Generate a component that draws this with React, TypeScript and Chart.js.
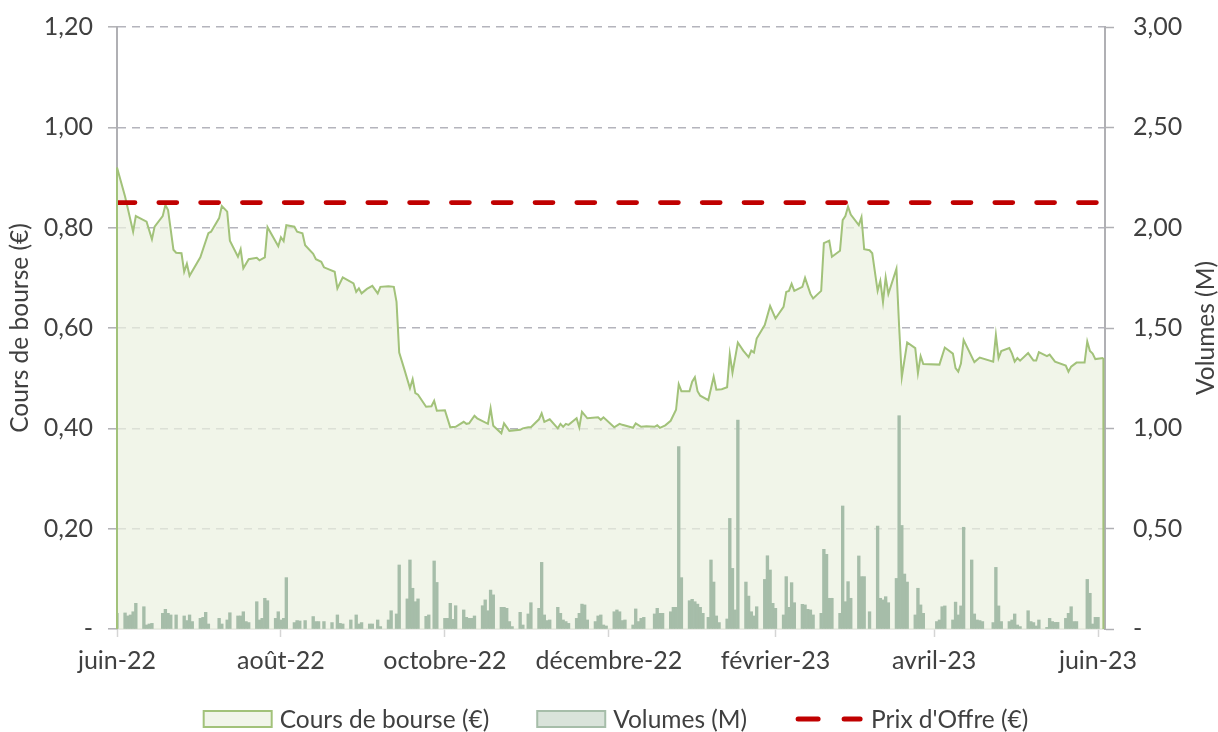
import React, { useEffect, useRef } from 'react';
import { Chart, registerables } from 'chart.js';

Chart.register(...registerables);

// Day offsets counted from 1 June 2022
const START_DATE = '2022-06-01';
const monthTickDays = [0, 61, 122, 183, 245, 304, 365];
const monthTickLabels = ['juin-22', 'août-22', 'octobre-22', 'décembre-22', 'février-23', 'avril-23', 'juin-23'];

// [day offset, share price €]
const pricePoints: [number, number][] = [
  [0, 0.92], [3, 0.862], [6, 0.792], [7, 0.823], [11, 0.812], [13, 0.777], [14, 0.802], [17, 0.823],
  [18, 0.845], [19, 0.835], [21, 0.756], [22, 0.75], [24, 0.749], [25, 0.712], [26, 0.728], [27, 0.704],
  [31, 0.741], [34, 0.789], [35, 0.792], [38, 0.819], [39, 0.843], [41, 0.832], [42, 0.774], [45, 0.742],
  [46, 0.757], [47, 0.719], [49, 0.737], [52, 0.74], [53, 0.735], [55, 0.741], [56, 0.801], [60, 0.763],
  [61, 0.781], [62, 0.773], [63, 0.805], [66, 0.802], [67, 0.792], [69, 0.789], [70, 0.765], [73, 0.748],
  [74, 0.737], [76, 0.732], [77, 0.721], [81, 0.712], [82, 0.679], [84, 0.701], [88, 0.689], [89, 0.672],
  [90, 0.679], [91, 0.669], [93, 0.678], [95, 0.684], [97, 0.669], [98, 0.682], [101, 0.683], [103, 0.682],
  [104, 0.652], [105, 0.551], [107, 0.516], [109, 0.48], [110, 0.498], [111, 0.47], [112, 0.467], [115, 0.443],
  [117, 0.444], [118, 0.455], [119, 0.435], [122, 0.436], [124, 0.402], [126, 0.403], [129, 0.413], [130, 0.409],
  [131, 0.41], [133, 0.425], [134, 0.42], [138, 0.409], [139, 0.44], [140, 0.405], [143, 0.39], [144, 0.41],
  [146, 0.395], [150, 0.397], [151, 0.4], [153, 0.402], [154, 0.402], [157, 0.418], [158, 0.43], [159, 0.413],
  [161, 0.418], [164, 0.4], [165, 0.409], [166, 0.403], [167, 0.409], [168, 0.407], [171, 0.42], [172, 0.402],
  [173, 0.433], [175, 0.42], [179, 0.422], [180, 0.417], [181, 0.422], [185, 0.402], [187, 0.409], [188, 0.407],
  [192, 0.401], [193, 0.41], [195, 0.403], [197, 0.404], [200, 0.403], [201, 0.406], [202, 0.401], [204, 0.406],
  [206, 0.415], [208, 0.437], [209, 0.488], [210, 0.474], [213, 0.474], [214, 0.493], [215, 0.502], [216, 0.474],
  [217, 0.465], [220, 0.456], [222, 0.503], [223, 0.477], [225, 0.478], [227, 0.482], [228, 0.548], [229, 0.511],
  [231, 0.571], [233, 0.555], [235, 0.542], [236, 0.555], [237, 0.551], [238, 0.579], [241, 0.606], [243, 0.644],
  [245, 0.619], [248, 0.642], [249, 0.672], [250, 0.674], [251, 0.688], [252, 0.674], [255, 0.682], [256, 0.7],
  [258, 0.668], [259, 0.659], [262, 0.674], [263, 0.769], [265, 0.774], [266, 0.742], [269, 0.754], [270, 0.815],
  [271, 0.823], [272, 0.842], [273, 0.826], [276, 0.805], [277, 0.821], [278, 0.757], [280, 0.755], [281, 0.749],
  [283, 0.674], [284, 0.694], [285, 0.652], [286, 0.701], [287, 0.668], [290, 0.718], [291, 0.603], [292, 0.502],
  [294, 0.571], [297, 0.56], [298, 0.51], [299, 0.544], [300, 0.528], [306, 0.527], [308, 0.561], [311, 0.549],
  [312, 0.52], [313, 0.513], [314, 0.529], [315, 0.576], [319, 0.532], [321, 0.541], [326, 0.533], [327, 0.586],
  [328, 0.54], [329, 0.554], [332, 0.56], [333, 0.549], [334, 0.533], [335, 0.54], [336, 0.535], [339, 0.55],
  [341, 0.535], [342, 0.535], [343, 0.552], [346, 0.544], [347, 0.547], [349, 0.533], [353, 0.525], [354, 0.513],
  [355, 0.523], [357, 0.531], [360, 0.531], [361, 0.573], [362, 0.554], [363, 0.549], [364, 0.538], [367, 0.54],
];

// [day offset, volume in millions]
const volumePoints: [number, number][] = [
  [0, 0.078], [3, 0.08], [4, 0.065], [5, 0.07], [6, 0.086], [7, 0.128], [10, 0.111], [11, 0.02], [12, 0.025],
  [13, 0.028], [17, 0.078], [18, 0.098], [19, 0.078], [20, 0.07], [22, 0.07], [25, 0.065], [26, 0.042], [27, 0.07],
  [28, 0.037], [31, 0.053], [32, 0.058], [33, 0.083], [34, 0.025], [38, 0.053], [39, 0.025], [41, 0.045], [42, 0.081],
  [45, 0.065], [46, 0.065], [47, 0.086], [48, 0.037], [49, 0.032], [52, 0.136], [53, 0.045], [54, 0.053], [55, 0.153],
  [56, 0.141], [59, 0.053], [60, 0.086], [61, 0.045], [62, 0.053], [63, 0.256], [66, 0.032], [67, 0.042], [68, 0.04],
  [70, 0.042], [73, 0.062], [74, 0.037], [75, 0.037], [77, 0.037], [80, 0.032], [82, 0.07], [83, 0.028], [84, 0.025],
  [87, 0.045], [89, 0.07], [90, 0.025], [91, 0.032], [94, 0.025], [95, 0.025], [97, 0.045], [98, 0.012], [101, 0.045],
  [102, 0.091], [104, 0.075], [105, 0.319], [108, 0.15], [109, 0.344], [110, 0.203], [111, 0.136], [112, 0.15],
  [115, 0.063], [116, 0.07], [118, 0.339], [119, 0.232], [122, 0.053], [123, 0.053], [124, 0.128], [125, 0.048],
  [126, 0.116], [129, 0.095], [130, 0.058], [131, 0.053], [132, 0.053], [133, 0.065], [136, 0.116], [137, 0.145],
  [138, 0.091], [139, 0.194], [140, 0.17], [143, 0.108], [144, 0.108], [145, 0.103], [146, 0.037], [147, 0.012],
  [150, 0.083], [151, 0.02], [153, 0.075], [154, 0.131], [157, 0.103], [158, 0.332], [159, 0.07], [160, 0.042],
  [161, 0.045], [164, 0.108], [165, 0.078], [166, 0.045], [167, 0.037], [168, 0.028], [171, 0.053], [172, 0.078],
  [173, 0.124], [174, 0.12], [175, 0.045], [178, 0.037], [179, 0.065], [180, 0.07], [181, 0.02], [182, 0.015],
  [185, 0.086], [186, 0.095], [187, 0.086], [188, 0.042], [189, 0.045], [192, 0.02], [193, 0.1], [194, 0.037],
  [195, 0.053], [196, 0.058], [200, 0.075], [201, 0.103], [202, 0.078], [203, 0.078], [206, 0.086], [207, 0.108],
  [208, 0.108], [209, 0.909], [210, 0.256], [213, 0.141], [214, 0.148], [215, 0.136], [216, 0.124], [217, 0.108],
  [218, 0.078], [220, 0.058], [221, 0.344], [222, 0.234], [223, 0.065], [224, 0.032], [227, 0.05], [228, 0.551],
  [229, 0.302], [230, 0.095], [231, 1.041], [234, 0.234], [235, 0.164], [236, 0.086], [237, 0.065], [238, 0.111],
  [241, 0.247], [242, 0.365], [243, 0.294], [244, 0.128], [245, 0.103], [248, 0.07], [249, 0.261], [250, 0.108],
  [251, 0.231], [252, 0.131], [255, 0.123], [256, 0.12], [257, 0.098], [258, 0.095], [259, 0.07], [262, 0.078],
  [263, 0.397], [264, 0.372], [265, 0.153], [266, 0.153], [269, 0.078], [270, 0.613], [271, 0.136], [272, 0.236],
  [273, 0.153], [276, 0.364], [277, 0.261], [278, 0.261], [280, 0.086], [283, 0.513], [284, 0.153], [285, 0.145],
  [286, 0.161], [287, 0.131], [290, 0.252], [291, 1.063], [292, 0.516], [293, 0.274], [294, 0.234], [297, 0.07],
  [298, 0.203], [299, 0.12], [300, 0.078], [305, 0.037], [306, 0.045], [307, 0.111], [308, 0.115], [311, 0.045],
  [312, 0.134], [313, 0.07], [314, 0.115], [315, 0.507], [318, 0.344], [319, 0.075], [320, 0.045], [321, 0.042],
  [322, 0.037], [326, 0.032], [327, 0.307], [328, 0.115], [329, 0.037], [332, 0.037], [333, 0.045], [334, 0.075],
  [335, 0.02], [336, 0.012], [339, 0.091], [340, 0.037], [341, 0.032], [342, 0.015], [343, 0.045], [346, 0.008],
  [347, 0.053], [348, 0.037], [349, 0.033], [350, 0.033], [353, 0.053], [354, 0.078], [355, 0.111], [356, 0.037],
  [357, 0.037], [361, 0.247], [362, 0.178], [363, 0.025], [364, 0.058], [365, 0.058],
];

const offerPrice = 0.85;

const seriesLabels = ['Cours de bourse (€)', 'Volumes (M)', "Prix d'Offre (€)"];
const leftAxisTitle = 'Cours de bourse (€)';
const rightAxisTitle = 'Volumes (M)';

const FONT = "Lato, 'Open Sans', sans-serif";
const TEXT = '#404040';
const PRICE_LINE = '#a2c27a';
const PRICE_FILL = 'rgba(235,241,225,0.72)';
const VOL_COLOR = '#a6bda9';
const OFFER_COLOR = '#c00000';
const AXIS_GRAY = '#b0b0b4';
const TICK_SIZE = 25;
const LABEL_SIZE = 24.5;

const fmt = (v: number) => (v === 0 ? '-' : Number(v).toFixed(2).replace('.', ','));

const decorPlugin = {
  id: 'decor',
  afterDatasetsDraw(chart: any) {
    // vertical edges of the area (as drawn by the spreadsheet's area border)
    const meta = chart.getDatasetMeta(0);
    const pts = meta.data;
    if (!pts.length) return;
    const y0 = chart.scales.y.getPixelForValue(0);
    const ctx = chart.ctx;
    ctx.save();
    ctx.strokeStyle = PRICE_LINE;
    ctx.lineWidth = 2;
    [pts[0], pts[pts.length - 1]].forEach((p: any) => {
      ctx.beginPath();
      ctx.moveTo(p.x, p.y);
      ctx.lineTo(p.x, y0);
      ctx.stroke();
    });
    ctx.restore();
  },
  afterDraw(chart: any) {
    const ctx = chart.ctx;
    const area = chart.chartArea;
    // right axis title, rotated (bottom to top)
    ctx.save();
    ctx.font = `${LABEL_SIZE}px ${FONT}`;
    ctx.fillStyle = TEXT;
    ctx.textAlign = 'center';
    ctx.textBaseline = 'middle';
    ctx.translate(chart.width - 12, (area.top + area.bottom) / 2);
    ctx.rotate(-Math.PI / 2);
    ctx.fillText(rightAxisTitle, 0, 0);
    ctx.restore();

    // legend
    const boxW = 68, boxH = 16, textGap = 8, itemGap = 48;
    ctx.save();
    ctx.font = `${LABEL_SIZE}px ${FONT}`;
    const widths = seriesLabels.map((l) => ctx.measureText(l).width);
    const total = widths.reduce((a, w) => a + boxW + textGap + w, 0) + itemGap * (seriesLabels.length - 1);
    let x = chart.width / 2 + 7 - total / 2;
    const cy = chart.height - 13;
    seriesLabels.forEach((label, i) => {
      if (i < 2) {
        ctx.fillStyle = i === 0 ? '#f1f5ea' : '#d9e3da';
        ctx.strokeStyle = i === 0 ? PRICE_LINE : VOL_COLOR;
        ctx.lineWidth = 2;
        ctx.fillRect(x, cy - boxH / 2, boxW, boxH);
        ctx.strokeRect(x, cy - boxH / 2, boxW, boxH);
      } else {
        ctx.strokeStyle = OFFER_COLOR;
        ctx.lineWidth = 5;
        ctx.lineCap = 'round';
        ctx.setLineDash([20, 26]);
        ctx.beginPath();
        ctx.moveTo(x + 3, cy);
        ctx.lineTo(x + boxW - 3, cy);
        ctx.stroke();
        ctx.setLineDash([]);
      }
      ctx.fillStyle = TEXT;
      ctx.textAlign = 'left';
      ctx.textBaseline = 'middle';
      ctx.fillText(label, x + boxW + textGap, cy + 1);
      x += boxW + textGap + widths[i] + itemGap;
    });
    ctx.restore();
  },
};

const noVerticalPadding = (s: any) => {
  s.paddingTop = 0;
  s.paddingBottom = 0;
};

export default function App() {
  const canvasRef = useRef<HTMLCanvasElement | null>(null);

  useEffect(() => {
    if (!canvasRef.current) return;
    const firstDay = pricePoints[0][0];
    const lastDay = pricePoints[pricePoints.length - 1][0];
    const chart = new Chart(canvasRef.current, {
      type: 'line',
      data: {
        datasets: [
          {
            type: 'line',
            label: seriesLabels[0],
            data: pricePoints.map(([d, v]) => ({ x: d, y: v })),
            borderColor: PRICE_LINE,
            backgroundColor: PRICE_FILL,
            borderWidth: 2,
            pointRadius: 0,
            tension: 0,
            fill: 'origin',
            yAxisID: 'y',
            order: 2,
          },
          {
            type: 'bar',
            label: seriesLabels[1],
            data: volumePoints.map(([d, v]) => ({ x: d, y: v })),
            backgroundColor: VOL_COLOR,
            borderWidth: 0,
            barThickness: 2.7,
            yAxisID: 'y1',
            order: 1,
          },
          {
            type: 'line',
            label: seriesLabels[2],
            data: [
              { x: firstDay, y: offerPrice },
              { x: lastDay, y: offerPrice },
            ],
            borderColor: OFFER_COLOR,
            borderWidth: 4.7,
            borderDash: [18, 23.8],
            borderCapStyle: 'round',
            pointRadius: 0,
            fill: false,
            yAxisID: 'y',
            order: 0,
          },
        ] as any,
      },
      options: {
        animation: false,
        responsive: true,
        maintainAspectRatio: false,
        layout: { padding: { top: 27, left: 0, right: 0, bottom: 48 } },
        plugins: {
          legend: { display: false },
          tooltip: { enabled: false },
          title: { display: false },
        },
        scales: {
          x: {
            type: 'linear',
            min: 0,
            max: 367.6,
            offset: false,
            afterBuildTicks: (scale: any) => {
              scale.ticks = monthTickDays.map((v) => ({ value: v }));
            },
            ticks: {
              autoSkip: false,
              maxRotation: 0,
              padding: 9,
              color: TEXT,
              font: { family: FONT, size: TICK_SIZE },
              callback: (v: any) => {
                const i = monthTickDays.indexOf(Number(v));
                return i >= 0 ? monthTickLabels[i] : '';
              },
            },
            grid: {
              offset: false,
              drawOnChartArea: false,
              drawTicks: true,
              tickLength: 8,
              tickColor: '#d5d5d5',
              tickWidth: 1.5,
            },
            border: { display: true, color: '#d6d9d0', width: 1.5 },
            afterFit: (s: any) => {
              s.height = 55;
            },
          },
          y: {
            position: 'left',
            min: 0,
            max: 1.2,
            ticks: {
              stepSize: 0.2,
              padding: 15,
              color: TEXT,
              font: { family: FONT, size: TICK_SIZE },
              callback: (v: any) => fmt(Number(v)),
            },
            grid: {
              color: (c: any) => (c.tick && c.tick.value === 0 ? 'rgba(0,0,0,0)' : '#b4b4bc'),
              lineWidth: 1.6,
              tickColor: AXIS_GRAY,
              tickLength: 9,
              tickWidth: 1.5,
            },
            border: { display: true, color: AXIS_GRAY, width: 2, dash: [8, 6] },
            title: {
              display: true,
              text: leftAxisTitle,
              color: TEXT,
              font: { family: FONT, size: LABEL_SIZE },
              padding: { top: 5, bottom: 0 },
            },
            afterFit: (s: any) => {
              s.width = 117;
              noVerticalPadding(s);
            },
          },
          y1: {
            position: 'right',
            min: 0,
            max: 3,
            ticks: {
              stepSize: 0.5,
              padding: 19,
              color: TEXT,
              font: { family: FONT, size: TICK_SIZE },
              callback: (v: any) => fmt(Number(v)),
            },
            grid: { drawOnChartArea: false, drawTicks: true, tickColor: AXIS_GRAY, tickLength: 9, tickWidth: 1.5 },
            border: { display: true, color: AXIS_GRAY, width: 2 },
            afterFit: (s: any) => {
              s.width = 113;
              noVerticalPadding(s);
            },
          },
        },
      } as any,
      plugins: [decorPlugin],
    });
    return () => chart.destroy();
  }, []);

  return (
    <div style={{ position: 'absolute', left: 0, top: 0, width: 1218, height: 732 }} data-start={START_DATE}>
      <canvas ref={canvasRef} />
    </div>
  );
}
